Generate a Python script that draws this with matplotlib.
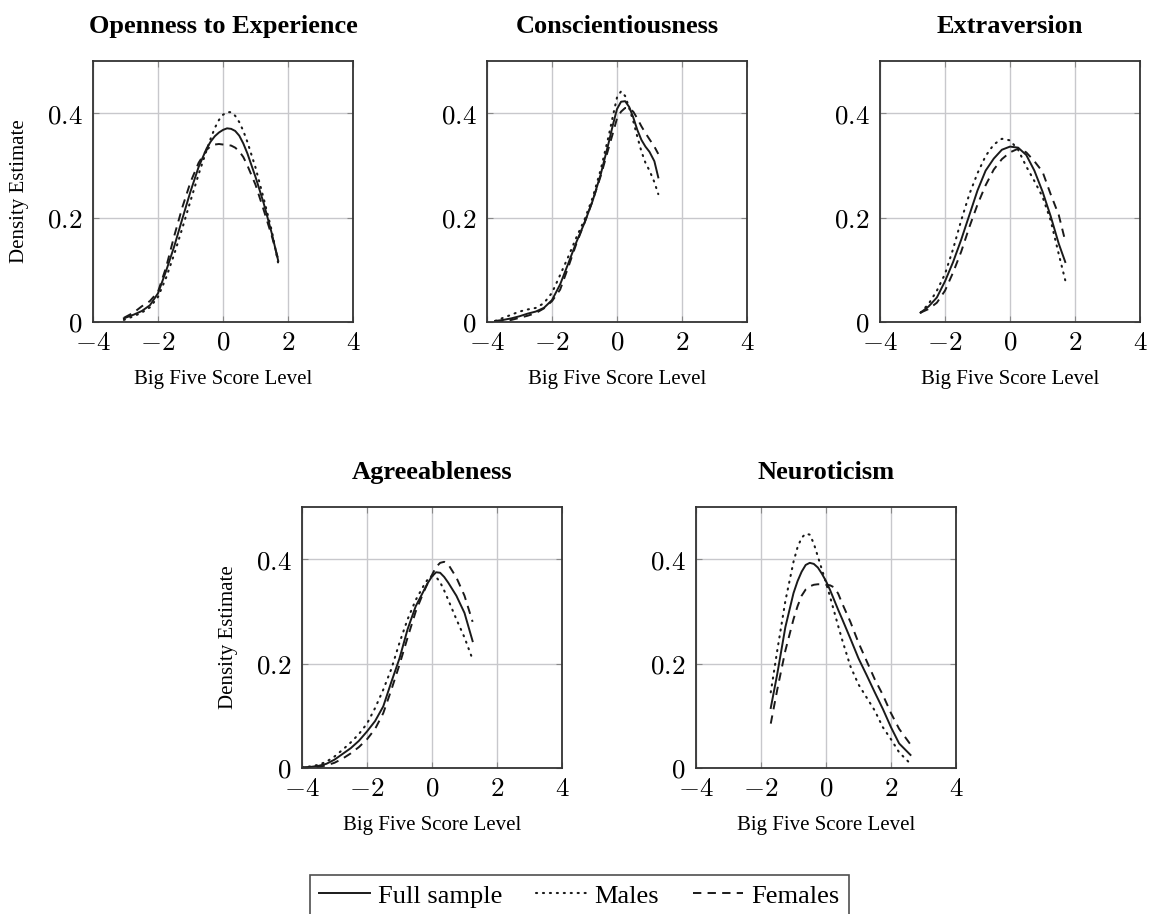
"""
Kernel density estimates of the Big Five scores, full sample vs males vs females.
Five small panels (3 on top, 2 centred below) with a shared legend at the bottom.
"""

import numpy as np
import matplotlib
matplotlib.use("Agg")
import matplotlib.pyplot as plt
from matplotlib.ticker import FixedLocator, FuncFormatter

plt.rcParams["mathtext.fontset"] = "cm"
plt.rcParams["lines.scale_dashes"] = False

# ---------------------------------------------------------------------------
# Data
# ---------------------------------------------------------------------------
titles = ["Openness to Experience", "Conscientiousness", "Extraversion",
          "Agreeableness", "Neuroticism"]

open_x = [-3.05, -2.75, -2.5, -2.25, -2.0, -1.75, -1.5, -1.25, -1.0, -0.75, -0.5,
          -0.375, -0.25, -0.125, 0.0, 0.125, 0.25, 0.375, 0.5, 0.625, 0.75,
          1.0, 1.25, 1.5, 1.7]
open_full = [0.007, 0.014, 0.021, 0.032, 0.055, 0.098, 0.145, 0.198, 0.250, 0.297, 0.333,
             0.346, 0.356, 0.363, 0.368, 0.371, 0.370, 0.366, 0.357, 0.342, 0.323,
             0.278, 0.228, 0.170, 0.117]
open_male = [0.004, 0.011, 0.018, 0.028, 0.048, 0.085, 0.130, 0.180, 0.232, 0.283, 0.330,
             0.352, 0.372, 0.387, 0.397, 0.402, 0.402, 0.395, 0.383, 0.366, 0.345,
             0.296, 0.237, 0.175, 0.112]
open_fem = [0.008, 0.018, 0.030, 0.040, 0.058, 0.105, 0.165, 0.220, 0.268, 0.305, 0.330,
            0.337, 0.340, 0.341, 0.340, 0.339, 0.338, 0.334, 0.327, 0.316, 0.300,
            0.263, 0.215, 0.165, 0.120]

cons_x = [-3.75, -3.5, -3.25, -3.0, -2.75, -2.5, -2.25, -2.0, -1.75, -1.5, -1.25,
          -1.0, -0.75, -0.5, -0.25, -0.125, 0.0, 0.125, 0.25, 0.375, 0.5, 0.625,
          0.75, 0.875, 1.0, 1.15, 1.27]
cons_full = [0.002, 0.004, 0.007, 0.011, 0.016, 0.020, 0.027, 0.042, 0.072, 0.112, 0.153,
             0.190, 0.232, 0.283, 0.345, 0.378, 0.408, 0.422, 0.423, 0.412, 0.392, 0.368,
             0.349, 0.336, 0.326, 0.308, 0.277]
cons_male = [0.002, 0.008, 0.014, 0.020, 0.024, 0.027, 0.036, 0.056, 0.090, 0.125, 0.162,
             0.196, 0.238, 0.292, 0.358, 0.395, 0.430, 0.442, 0.433, 0.410, 0.385, 0.355,
             0.327, 0.305, 0.290, 0.268, 0.245]
cons_fem = [0.000, 0.002, 0.004, 0.008, 0.012, 0.017, 0.026, 0.040, 0.062, 0.105, 0.150,
            0.190, 0.232, 0.280, 0.335, 0.362, 0.390, 0.403, 0.410, 0.409, 0.403, 0.390,
            0.375, 0.362, 0.350, 0.336, 0.322]

extr_x = [-2.75, -2.5, -2.25, -2.0, -1.75, -1.5, -1.25, -1.0, -0.75, -0.5,
          -0.25, 0.0, 0.25, 0.5, 0.75, 1.0, 1.25, 1.5, 1.7]
extr_full = [0.018, 0.030, 0.047, 0.078, 0.115, 0.158, 0.205, 0.252, 0.290, 0.313,
             0.330, 0.336, 0.334, 0.320, 0.290, 0.250, 0.203, 0.150, 0.115]
extr_male = [0.018, 0.035, 0.060, 0.092, 0.140, 0.195, 0.245, 0.285, 0.318, 0.340,
             0.351, 0.348, 0.330, 0.298, 0.270, 0.240, 0.195, 0.130, 0.080]
extr_fem = [0.018, 0.025, 0.037, 0.060, 0.095, 0.135, 0.182, 0.225, 0.262, 0.292,
            0.312, 0.325, 0.332, 0.325, 0.308, 0.288, 0.245, 0.205, 0.155]

agre_x = [-4.0, -3.75, -3.5, -3.25, -3.0, -2.75, -2.5, -2.25, -2.0, -1.75, -1.5, -1.25,
          -1.0, -0.75, -0.5, -0.25, -0.125, 0.0, 0.125, 0.25, 0.375, 0.5, 0.75,
          1.0, 1.25]
agre_full = [0.001, 0.002, 0.004, 0.008, 0.016, 0.027, 0.038, 0.052, 0.070, 0.090, 0.118, 0.165,
             0.210, 0.266, 0.310, 0.340, 0.355, 0.367, 0.375, 0.374, 0.366, 0.355, 0.330,
             0.297, 0.243]
agre_male = [0.001, 0.003, 0.006, 0.012, 0.022, 0.035, 0.049, 0.065, 0.085, 0.115, 0.150, 0.190,
             0.240, 0.285, 0.322, 0.350, 0.362, 0.368, 0.366, 0.356, 0.340, 0.322, 0.285,
             0.250, 0.208]
agre_fem = [0.001, 0.001, 0.002, 0.005, 0.010, 0.018, 0.028, 0.040, 0.055, 0.075, 0.105, 0.150,
            0.198, 0.250, 0.300, 0.338, 0.355, 0.370, 0.385, 0.393, 0.395, 0.390, 0.365,
            0.330, 0.280]

neur_x = [-1.7, -1.5, -1.25, -1.0, -0.875, -0.75, -0.625, -0.5, -0.375, -0.25, -0.125,
          0.0, 0.125, 0.25, 0.375, 0.5, 0.75, 1.0, 1.25, 1.5, 1.75, 2.0, 2.25, 2.6]
neur_full = [0.115, 0.180, 0.270, 0.335, 0.358, 0.376, 0.389, 0.393, 0.391, 0.384, 0.372,
             0.358, 0.341, 0.322, 0.303, 0.285, 0.248, 0.210, 0.178, 0.145, 0.113,
             0.078, 0.047, 0.025]
neur_male = [0.145, 0.225, 0.320, 0.395, 0.423, 0.441, 0.449, 0.447, 0.430, 0.405, 0.380,
             0.355, 0.328, 0.300, 0.272, 0.245, 0.195, 0.160, 0.135, 0.110, 0.078,
             0.055, 0.030, 0.008]
neur_fem = [0.085, 0.150, 0.225, 0.285, 0.310, 0.330, 0.342, 0.348, 0.351, 0.352, 0.352,
            0.351, 0.350, 0.346, 0.334, 0.315, 0.280, 0.240, 0.205, 0.170, 0.140,
            0.105, 0.075, 0.045]

xticks = [-4, -2, 0, 2, 4]
yticks = [0, 0.2, 0.4]
series_labels = ["Full sample", "Males", "Females"]

panels = [
    (open_x, open_full, open_male, open_fem),
    (cons_x, cons_full, cons_male, cons_fem),
    (extr_x, extr_full, extr_male, extr_fem),
    (agre_x, agre_full, agre_male, agre_fem),
    (neur_x, neur_full, neur_male, neur_fem),
]

# axes boxes in pixels: (left, top) for a 1149x914 canvas
W, H = 1149, 914
AX_W, AX_H = 260, 261
boxes = [(93, 61), (487, 61), (880, 61), (302, 507), (696, 507)]

LINE = "#1a1a1a"
SERIF = "Liberation Serif"


def fmt_tick(v, _pos):
    return f"${v:g}$"


fig = plt.figure(figsize=(W / 100, H / 100), dpi=100)

handles = None
for i, ((x, full, male, fem), (l, t)) in enumerate(zip(panels, boxes)):
    ax = fig.add_axes([l / W, 1 - (t + AX_H) / H, AX_W / W, AX_H / H])
    h1, = ax.plot(x, full, color=LINE, lw=1.4, solid_joinstyle="round")
    h2, = ax.plot(x, male, color=LINE, lw=1.5, dashes=(0.8, 4.2),
                  dash_capstyle="round")
    h3, = ax.plot(x, fem, color=LINE, lw=1.4, dashes=(6, 4.5))
    handles = [h1, h2, h3]

    ax.set_xlim(-4, 4)
    ax.set_ylim(0, 0.5)
    ax.xaxis.set_major_locator(FixedLocator(xticks))
    ax.yaxis.set_major_locator(FixedLocator(yticks))
    ax.xaxis.set_major_formatter(FuncFormatter(fmt_tick))
    ax.yaxis.set_major_formatter(FuncFormatter(fmt_tick))
    ax.tick_params(direction="in", length=4, width=0.8, color="#888888",
                   labelsize=19.5, top=True, right=True)
    ax.tick_params(axis="x", pad=5.5)
    ax.tick_params(axis="y", pad=7.5)
    ax.grid(True, color="#c8c8cc", lw=1.0)
    ax.set_axisbelow(True)
    for sp in ax.spines.values():
        sp.set_color("#333333")
        sp.set_linewidth(1.3)

    ax.set_title(titles[i], fontfamily=SERIF, fontweight="bold",
                 fontsize=19, pad=20)
    ax.set_xlabel("Big Five Score Level", fontfamily=SERIF, fontsize=15,
                  labelpad=10)
    if i in (0, 3):
        ax.set_ylabel("Density Estimate", fontfamily=SERIF, fontsize=15,
                      labelpad=13)

leg = fig.legend(handles, series_labels, loc="upper center",
                 bbox_to_anchor=(579.5 / W, 1 - 875 / H), ncol=3,
                 prop={"family": SERIF, "size": 19}, frameon=True,
                 fancybox=False, edgecolor="#222222", handlelength=1.9,
                 handletextpad=0.3, columnspacing=1.3, borderpad=0.35,
                 borderaxespad=0)
leg.get_frame().set_linewidth(1.2)

fig.savefig("out.png", dpi=100)
print("Saved: out.png")
